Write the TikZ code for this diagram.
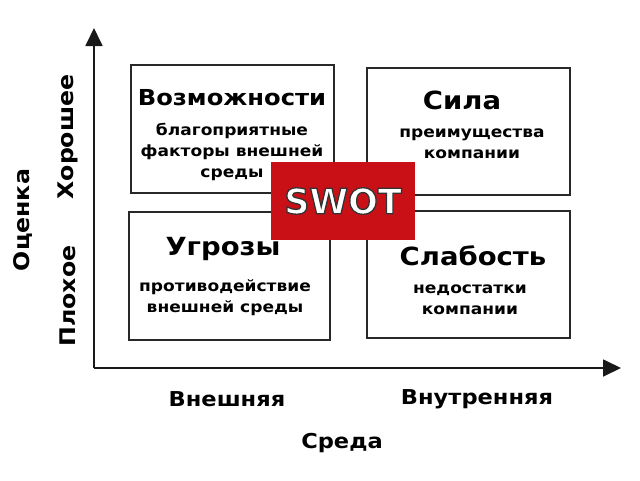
\documentclass[tikz,border=0pt]{standalone}
\usepackage{fontspec}
\setmainfont{DejaVu Sans}[FakeStretch=1.1]
\newfontfamily\swotfont{DejaVu Sans}
\usetikzlibrary{arrows.meta}
\definecolor{swotred}{RGB}{200,16,22}
\definecolor{boxline}{RGB}{40,40,40}
\newcommand{\outlinedtext}[1]{\special{pdf:literal 2 Tr 1.3 w 0.2 0.2 0.2 RG}#1\special{pdf:literal 0 Tr}}
\begin{document}
\begin{tikzpicture}[x=1pt,y=-1pt,
  quad/.style={draw=boxline,line width=1.6pt,fill=white,inner sep=0pt,outer sep=0pt},
  head/.style={font=\bfseries\fontsize{25}{27}\selectfont,inner sep=0pt},
  sub/.style={font=\bfseries\fontsize{15.5}{21}\selectfont,align=center,inner sep=0pt},
  axlbl/.style={font=\bfseries\fontsize{20.5}{22}\selectfont,inner sep=0pt},
  vlbl/.style={font=\bfseries\fontsize{21.5}{22}\selectfont,inner sep=0pt,rotate=90},
  axis/.style={line width=1.8pt,draw=black!90,-{Triangle[length=18pt,width=17pt]}}]
\useasboundingbox (0,0) rectangle (640,480);
\fill[white] (0,0) rectangle (640,480);
% axes
\coordinate (O) at (94,368);
\coordinate (ytip) at (94,28);
\coordinate (xtip) at (621,368);
\draw[axis] (O) -- (ytip);
\draw[axis] (O) -- (xtip);
% quadrants
\node[quad,minimum width=203pt,minimum height=128pt] (opp) at (232.5,129) {};
\node[quad,minimum width=203pt,minimum height=127pt] (str) at (468.5,131.5) {};
\node[quad,minimum width=201pt,minimum height=128pt] (thr) at (229.5,276) {};
\node[quad,minimum width=203pt,minimum height=127pt] (wea) at (468.5,274.5) {};
% texts
\node[head,font=\bfseries\fontsize{22}{24}\selectfont] (oppH) at (232,98) {Возможности};
\node[sub] (oppT) at (232,152) {благоприятные\\факторы внешней\\среды};
\node[head] (strH) at (462,100) {Сила};
\node[sub] (strT) at (472,143.5) {преимущества\\компании};
\node[head] (thrH) at (223,249) {Угрозы};
\node[sub] (thrT) at (225,298) {противодействие\\внешней среды};
\node[head] (weaH) at (473,256) {Слабость};
\node[sub] (weaT) at (470,299.5) {недостатки\\компании};
% SWOT
\node[fill=swotred,minimum width=144pt,minimum height=78pt,inner sep=0pt] (swot) at (343,201) {};
\node[font=\swotfont\bfseries\fontsize{35}{36}\selectfont,text=white,inner sep=0pt] (swotT) at (swot.center) {\outlinedtext{SWOT}};
% axis labels
\node[vlbl] (good) at (68,137) {Хорошее};
\node[vlbl] (bad) at (68,296) {Плохое};
\node[vlbl] (rate) at (23,220) {Оценка};
\node[axlbl] (ext) at (227,399) {Внешняя};
\node[axlbl] (int) at (477,399) {Внутренняя};
\node[axlbl] (env) at (342,443) {Среда};
\end{tikzpicture}
\end{document}
